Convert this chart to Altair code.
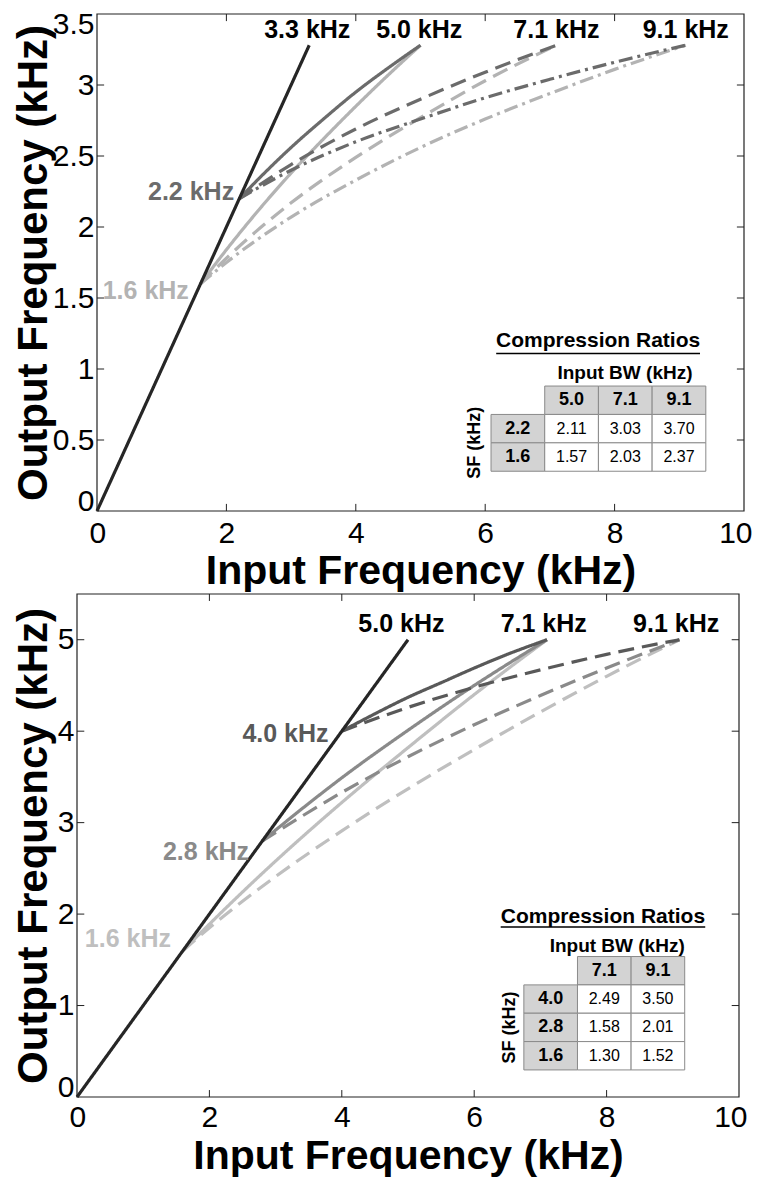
import altair as alt
import pandas as pd

FONT = "Liberation Sans, Arial, Helvetica, sans-serif"

# ------------------------------------------------------------------
# Data (kHz)
# ------------------------------------------------------------------
# Top panel: unprocessed line and compression curves
top_ref_x = [0.0, 3.28]
top_ref_y = [0.0, 3.28]

top_sf22_50_x = [2.2, 2.5, 3.0, 3.5, 4.0, 4.5, 5.0]
top_sf22_50_y = [2.2, 2.34, 2.56, 2.76, 2.95, 3.12, 3.28]
top_sf22_71_x = [2.2, 3.0, 4.0, 5.0, 6.0, 7.1]
top_sf22_71_y = [2.2, 2.44, 2.69, 2.90, 3.09, 3.28]
top_sf22_91_x = [2.2, 3.0, 4.0, 5.0, 6.0, 7.0, 8.0, 9.1]
top_sf22_91_y = [2.2, 2.40, 2.60, 2.76, 2.91, 3.04, 3.16, 3.28]

top_sf16_50_x = [1.6, 2.0, 2.5, 3.0, 3.5, 4.0, 4.5, 5.0]
top_sf16_50_y = [1.6, 1.84, 2.12, 2.38, 2.62, 2.85, 3.07, 3.28]
top_sf16_71_x = [1.6, 2.0, 3.0, 4.0, 5.0, 6.0, 7.1]
top_sf16_71_y = [1.6, 1.78, 2.17, 2.49, 2.77, 3.03, 3.28]
top_sf16_91_x = [1.6, 2.0, 3.0, 4.0, 5.0, 6.0, 7.0, 8.0, 9.1]
top_sf16_91_y = [1.6, 1.75, 2.07, 2.33, 2.56, 2.76, 2.94, 3.11, 3.28]

# Bottom panel
bot_ref_x = [0.0, 5.0]
bot_ref_y = [0.0, 5.0]

bot_sf40_71_x = [4.0, 4.5, 5.0, 5.5, 6.0, 6.5, 7.1]
bot_sf40_71_y = [4.0, 4.19, 4.37, 4.53, 4.69, 4.84, 5.0]
bot_sf40_91_x = [4.0, 5.0, 6.0, 7.0, 8.0, 9.1]
bot_sf40_91_y = [4.0, 4.26, 4.48, 4.67, 4.84, 5.0]

bot_sf28_71_x = [2.8, 3.5, 4.0, 5.0, 6.0, 7.1]
bot_sf28_71_y = [2.8, 3.21, 3.49, 4.01, 4.50, 5.0]
bot_sf28_91_x = [2.8, 4.0, 5.0, 6.0, 7.0, 8.0, 9.1]
bot_sf28_91_y = [2.8, 3.33, 3.72, 4.07, 4.39, 4.69, 5.0]

bot_sf16_71_x = [1.6, 2.0, 3.0, 4.0, 5.0, 6.0, 7.1]
bot_sf16_71_y = [1.6, 1.89, 2.58, 3.22, 3.82, 4.40, 5.0]
bot_sf16_91_x = [1.6, 2.0, 3.0, 4.0, 5.0, 6.0, 7.0, 8.0, 9.1]
bot_sf16_91_y = [1.6, 1.85, 2.41, 2.91, 3.37, 3.80, 4.21, 4.60, 5.0]

# Tick values
x_ticks = [0, 2, 4, 6, 8, 10]
top_y_ticks = [0, 0.5, 1, 1.5, 2, 2.5, 3, 3.5]
bot_y_ticks = [0, 1, 2, 3, 4, 5]

# Annotations
top_end_labels = ["3.3 kHz", "5.0 kHz", "7.1 kHz", "9.1 kHz"]
top_end_x = [3.25, 4.98, 7.1, 9.1]
top_sf_labels = ["2.2 kHz", "1.6 kHz"]
bot_end_labels = ["5.0 kHz", "7.1 kHz", "9.1 kHz"]
bot_end_x = [4.9, 7.05, 9.05]
bot_sf_labels = ["4.0 kHz", "2.8 kHz", "1.6 kHz"]

# Compression-ratio tables
top_tbl_cols = ["5.0", "7.1", "9.1"]
top_tbl_rows = ["2.2", "1.6"]
top_tbl_vals = [[2.11, 3.03, 3.70], [1.57, 2.03, 2.37]]
bot_tbl_cols = ["7.1", "9.1"]
bot_tbl_rows = ["4.0", "2.8", "1.6"]
bot_tbl_vals = [[2.49, 3.50], [1.58, 2.01], [1.30, 1.52]]

# ------------------------------------------------------------------
C_BLACK = "#262626"
DASHES = {"solid": [1, 0], "dash": [16, 8], "dashdot": [14, 5, 3, 5]}
LW = 3.2
X_TITLE_FS = 41
Y_TITLE_FS = 42


def curves_df(curves):
    rows = []
    for cid, dash, xs, ys in curves:
        for i, (a, b) in enumerate(zip(xs, ys)):
            rows.append(dict(x=a, y=b, c=cid, d=dash, o=i))
    return pd.DataFrame(rows)


def panel(ymax, yticks, width, height, groups, ticklen_x, ticklen_y,
          end_labels, end_x, end_y, sf_labels, sf_pos, sf_colors,
          tbl, y_title_pad, x_lab_pad, x_title_pad):
    xs = alt.Scale(domain=[0, 10], nice=False, zero=False)
    ys = alt.Scale(domain=[0, ymax], nice=False, zero=False)
    xax = alt.Axis(values=x_ticks, title="Input Frequency (kHz)", grid=False,
                   domain=False, ticks=False, labelFontSize=30, labelFont=FONT,
                   labelColor="black", titleFont=FONT, titleFontSize=X_TITLE_FS,
                   titleFontWeight="bold", titleColor="black", labelPadding=x_lab_pad,
                   titlePadding=x_title_pad, labelFlush=True, labelFlushOffset=8)
    yax = alt.Axis(values=yticks, format="~g", title="Output Frequency (kHz)", grid=False,
                   domain=False, ticks=False, labelFontSize=30, labelFont=FONT,
                   labelColor="black", titleFont=FONT, titleFontSize=Y_TITLE_FS,
                   titleFontWeight="bold", titleColor="black", labelPadding=3,
                   titlePadding=y_title_pad, labelOverlap=False,
                   labelFlush=True, labelFlushOffset=5)

    X = lambda f="x": alt.X(f"{f}:Q", scale=xs, axis=xax)
    Y = lambda f="y": alt.Y(f"{f}:Q", scale=ys, axis=yax)

    layers = []
    # plot frame
    layers.append(alt.Chart(pd.DataFrame([dict(x=0, x2=10, y=0, y2=ymax)]))
                  .mark_rect(filled=False, stroke="#222", strokeWidth=1.2)
                  .encode(x=X(), x2="x2:Q", y=Y(), y2="y2:Q"))
    # ticks (inward, on all four sides)
    trows = []
    for t in x_ticks[1:-1]:
        trows.append(dict(x=t, x2=t, y=0, y2=ticklen_y))
        trows.append(dict(x=t, x2=t, y=ymax, y2=ymax - ticklen_y))
    for t in yticks:
        if 0 < t < ymax:
            trows.append(dict(x=0, x2=ticklen_x, y=t, y2=t))
            trows.append(dict(x=10, x2=10 - ticklen_x, y=t, y2=t))
    layers.append(alt.Chart(pd.DataFrame(trows)).mark_rule(color="#222", strokeWidth=1)
                  .encode(x=X(), x2="x2:Q", y=Y(), y2="y2:Q"))

    # curves, light first
    for color, curves in groups:
        df = curves_df(curves)
        layers.append(
            alt.Chart(df).mark_line(strokeWidth=LW, color=color, interpolate="monotone")
            .encode(x=X(), y=Y(), detail="c:N", order="o:Q",
                    strokeDash=alt.StrokeDash("d:N", legend=None,
                                              scale=alt.Scale(domain=list(DASHES.keys()),
                                                              range=list(DASHES.values())))))

    # end labels
    edf = pd.DataFrame(dict(x=end_x, y=[end_y] * len(end_x), t=end_labels))
    layers.append(alt.Chart(edf).mark_text(font=FONT, fontSize=25, fontWeight="bold",
                                           color="black", align="center", baseline="middle")
                  .encode(x=X(), y=Y(), text="t:N"))
    # start-frequency labels
    for lab, (px, py), col in zip(sf_labels, sf_pos, sf_colors):
        sdf = pd.DataFrame(dict(x=[px], y=[py], t=[lab]))
        layers.append(alt.Chart(sdf).mark_text(font=FONT, fontSize=25, fontWeight="bold",
                                               color=col, align="right", baseline="middle")
                      .encode(x=X(), y=Y(), text="t:N"))

    # table
    cols, rows, vals, x0, cw, ytop, ch, title_y, uline, bw_x, bw_y, sf_x = tbl
    head, body, tb, tn = [], [], [], []
    for i, c in enumerate(cols):
        xa = x0 + (i + 1) * cw
        head.append(dict(x=xa, x2=xa + cw, y=ytop - ch, y2=ytop))
        tb.append(dict(x=xa + cw / 2, y=ytop - ch / 2, t=c))
    for j, r in enumerate(rows):
        ya = ytop - (j + 1) * ch
        head.append(dict(x=x0, x2=x0 + cw, y=ya - ch, y2=ya))
        tb.append(dict(x=x0 + cw / 2, y=ya - ch / 2, t=r))
        for i, v in enumerate(vals[j]):
            xa = x0 + (i + 1) * cw
            body.append(dict(x=xa, x2=xa + cw, y=ya - ch, y2=ya))
            tn.append(dict(x=xa + cw / 2, y=ya - ch / 2, t=f"{v:.2f}"))
    layers.append(alt.Chart(pd.DataFrame(head)).mark_rect(fill="#d3d3d3", stroke="#8a8a8a", strokeWidth=1)
                  .encode(x=X(), x2="x2:Q", y=Y(), y2="y2:Q"))
    layers.append(alt.Chart(pd.DataFrame(body)).mark_rect(fill="white", stroke="#8a8a8a", strokeWidth=1)
                  .encode(x=X(), x2="x2:Q", y=Y(), y2="y2:Q"))
    layers.append(alt.Chart(pd.DataFrame(tb)).mark_text(font=FONT, fontSize=18, fontWeight="bold",
                                                        color="black", baseline="middle")
                  .encode(x=X(), y=Y(), text="t:N"))
    layers.append(alt.Chart(pd.DataFrame(tn)).mark_text(font=FONT, fontSize=16, color="black",
                                                        baseline="middle")
                  .encode(x=X(), y=Y(), text="t:N"))
    ux1, ux2, uy = uline
    layers.append(alt.Chart(pd.DataFrame([dict(x=(ux1 + ux2) / 2, y=title_y, t="Compression Ratios")]))
                  .mark_text(font=FONT, fontSize=21, fontWeight="bold", color="black", baseline="middle")
                  .encode(x=X(), y=Y(), text="t:N"))
    layers.append(alt.Chart(pd.DataFrame([dict(x=ux1, x2=ux2, y=uy)]))
                  .mark_rule(color="black", strokeWidth=1.5)
                  .encode(x=X(), x2="x2:Q", y=Y()))
    layers.append(alt.Chart(pd.DataFrame([dict(x=bw_x, y=bw_y, t="Input BW (kHz)")]))
                  .mark_text(font=FONT, fontSize=19, fontWeight="bold", color="black", baseline="middle")
                  .encode(x=X(), y=Y(), text="t:N"))
    sf_mid = ytop - ch - len(rows) * ch / 2
    layers.append(alt.Chart(pd.DataFrame([dict(x=sf_x, y=sf_mid, t="SF (kHz)")]))
                  .mark_text(font=FONT, fontSize=18, fontWeight="bold", color="black",
                             baseline="middle", angle=270)
                  .encode(x=X(), y=Y(), text="t:N"))

    return alt.layer(*layers).properties(width=width, height=height)


def spacer():
    return (alt.Chart(pd.DataFrame({"s": [0]}))
            .mark_point(size=0, opacity=0)
            .encode(x=alt.X("s:Q", axis=None), y=alt.Y("s:Q", axis=None))
            .properties(width=1, height=1))


C22, C16 = "#6b6b6b", "#b3b3b3"
top_groups = [
    (C16, [("a50", "solid", top_sf16_50_x, top_sf16_50_y),
           ("a71", "dash", top_sf16_71_x, top_sf16_71_y),
           ("a91", "dashdot", top_sf16_91_x, top_sf16_91_y)]),
    (C22, [("b50", "solid", top_sf22_50_x, top_sf22_50_y),
           ("b71", "dash", top_sf22_71_x, top_sf22_71_y),
           ("b91", "dashdot", top_sf22_91_x, top_sf22_91_y)]),
    (C_BLACK, [("ref", "solid", top_ref_x, top_ref_y)]),
]
top = panel(3.5, top_y_ticks, 647, 497, top_groups, 0.11, 0.05,
            top_end_labels, top_end_x, 3.39,
            top_sf_labels, [(2.12, 2.25), (1.42, 1.55)], [C22, C16],
            (top_tbl_cols, top_tbl_rows, top_tbl_vals, 6.09, 0.83, 0.88, 0.20,
             1.20, (6.17, 9.32, 1.11), 8.16, 0.97, 5.84),
            -3, 7, 3)

B40, B28, B16 = "#595959", "#8a8a8a", "#bfbfbf"
bot_groups = [
    (B16, [("c71", "solid", bot_sf16_71_x, bot_sf16_71_y),
           ("c91", "dash", bot_sf16_91_x, bot_sf16_91_y)]),
    (B28, [("d71", "solid", bot_sf28_71_x, bot_sf28_71_y),
           ("d91", "dash", bot_sf28_91_x, bot_sf28_91_y)]),
    (B40, [("e71", "solid", bot_sf40_71_x, bot_sf40_71_y),
           ("e91", "dash", bot_sf40_91_x, bot_sf40_91_y)]),
    (C_BLACK, [("ref", "solid", bot_ref_x, bot_ref_y)]),
]
bottom = panel(5.5, bot_y_ticks, 662, 503, bot_groups, 0.11, 0.076,
               bot_end_labels, bot_end_x, 5.17,
               bot_sf_labels, [(3.8, 3.97), (2.6, 2.68), (1.42, 1.73)], [B40, B28, B16],
               (bot_tbl_cols, bot_tbl_rows, bot_tbl_vals, 6.75, 0.81, 1.536, 0.31,
                1.97, (6.40, 9.49, 1.86), 8.16, 1.656, 6.54),
               2, 5, 4)

row1 = alt.hconcat(spacer(), top, spacing=0)
row2 = alt.hconcat(spacer(), bottom, spacing=0)

chart = alt.vconcat(row1, row2, spacing=0).properties(
    padding={"left": 0, "top": 0, "right": 0, "bottom": 0}
).configure_view(stroke="transparent")

chart.save("out.html", embed_options={"renderer": "svg", "actions": False})
